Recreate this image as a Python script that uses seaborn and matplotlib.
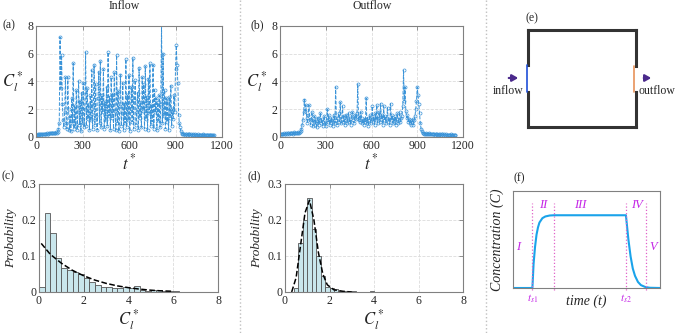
import numpy as np
import matplotlib
matplotlib.use("Agg")
import matplotlib.pyplot as plt
import seaborn as sns

# time axis (step 5) and concentration (a) and (b)
t_star = list(range(0, 1155, 5))

c_inflow = [
    0.15, 0.18, 0.2, 0.17, 0.22, 0.2, 0.18, 0.23, 0.21, 0.2,
    0.22, 0.25, 0.2, 0.24, 0.27, 0.23, 0.25, 0.28, 0.3, 0.26,
    0.28, 0.3, 0.27, 0.32, 0.3, 0.28, 0.33, 0.3, 0.35, 0.6,
    1.0, 7.2, 3.5, 5.9, 2.4, 1.2, 0.7, 1.8, 4.3, 1.0,
    0.6, 4.3, 2.0, 0.5, 1.5, 0.4, 2.8, 1.0, 5.3, 0.6,
    2.2, 0.8, 3.4, 0.5, 1.8, 4.0, 0.9, 2.6, 0.4, 3.2,
    1.0, 3.9, 0.7, 2.0, 6.1, 0.8, 3.5, 1.3, 2.4, 0.5,
    3.0, 1.2, 4.8, 0.6, 2.3, 5.2, 0.9, 3.8, 1.5, 0.5,
    2.8, 4.7, 1.0, 5.5, 0.7, 3.0, 1.8, 4.9, 0.6, 2.5,
    1.2, 3.6, 0.8, 6.1, 1.5, 2.9, 0.5, 4.3, 1.4, 3.1,
    0.6, 4.7, 1.9, 0.5, 5.9, 1.0, 3.3, 0.4, 2.2, 4.5,
    0.8, 1.7, 3.9, 0.5, 2.4, 1.0, 5.6, 0.7, 3.0, 1.2,
    4.5, 0.4, 2.0, 3.6, 1.1, 5.7, 0.6, 2.7, 4.1, 0.9,
    1.8, 3.2, 0.5, 5.0, 1.4, 2.5, 0.7, 4.3, 1.9, 3.8,
    0.6, 5.1, 1.3, 2.9, 0.5, 4.2, 1.7, 5.3, 0.8, 2.3,
    1.1, 5.2, 0.6, 3.4, 1.8, 2.8, 0.5, 2.5, 1.2, 3.0,
    0.7, 2.4, 8.2, 1.0, 6.0, 1.5, 3.4, 0.6, 2.8, 1.1,
    2.6, 0.5, 2.9, 1.4, 3.7, 0.8, 2.0, 1.3, 3.0, 1.8,
    4.9, 6.6, 5.2, 3.9, 1.6, 1.0, 0.7, 0.4, 0.3, 0.25,
    0.22, 0.2, 0.18, 0.25, 0.2, 0.17, 0.22, 0.19, 0.2, 0.16,
    0.2, 0.18, 0.15, 0.2, 0.17, 0.22, 0.16, 0.18, 0.15, 0.19,
    0.17, 0.15, 0.18, 0.14, 0.16, 0.2, 0.15, 0.13, 0.17, 0.15,
    0.14, 0.16, 0.13, 0.15, 0.12, 0.14, 0.13, 0.15, 0.12, 0.1,
    0.12,
]

c_outflow = [
    0.2, 0.22, 0.25, 0.2, 0.24, 0.27, 0.22, 0.25, 0.28, 0.24,
    0.26, 0.3, 0.25, 0.28, 0.32, 0.27, 0.3, 0.25, 0.29, 0.33,
    0.3, 0.27, 0.32, 0.35, 0.3, 0.28, 0.34, 0.4, 0.6, 0.9,
    1.2, 1.8, 2.7, 1.9, 2.3, 1.4, 1.0, 1.6, 2.3, 1.2,
    0.9, 1.3, 1.8, 0.8, 1.1, 1.5, 0.9, 1.3, 0.7, 1.0,
    1.4, 0.9, 1.2, 1.7, 1.0, 1.3, 0.8, 1.1, 1.5, 1.0,
    0.8, 1.2, 2.0, 1.1, 1.6, 0.9, 1.3, 1.0, 1.4, 0.8,
    1.1, 1.6, 1.0, 3.6, 1.2, 0.9, 1.4, 1.7, 1.1, 2.5,
    1.0, 1.3, 2.2, 1.1, 1.5, 0.9, 1.2, 1.6, 1.0, 1.4,
    1.7, 1.1, 1.3, 0.9, 1.5, 1.8, 1.2, 1.0, 1.4, 1.6,
    1.3, 1.7, 3.8, 1.2, 1.5, 1.1, 1.8, 1.4, 1.0, 1.2,
    0.9, 1.3, 1.1, 2.8, 1.0, 1.4, 0.8, 1.2, 1.6, 1.0,
    1.3, 2.2, 1.1, 1.5, 0.9, 1.7, 1.2, 2.3, 1.0, 1.4,
    1.8, 1.1, 2.4, 1.3, 1.6, 0.9, 2.2, 1.2, 1.5, 1.0,
    1.4, 2.1, 1.1, 1.3, 0.9, 2.4, 1.2, 1.6, 1.0, 1.3,
    1.1, 1.5, 0.9, 1.3, 1.7, 1.0, 1.2, 1.8, 1.1, 1.4,
    1.5, 2.2, 4.8, 2.6, 3.6, 1.9, 1.4, 1.6, 1.1, 1.3,
    1.0, 1.2, 0.9, 1.1, 1.3, 0.9, 1.2, 1.5, 2.0, 2.6,
    3.6, 3.0, 2.4, 1.7, 1.0, 0.6, 0.4, 0.3, 0.28, 0.25,
    0.25, 0.22, 0.27, 0.2, 0.24, 0.21, 0.26, 0.2, 0.23, 0.19,
    0.22, 0.2, 0.24, 0.18, 0.21, 0.19, 0.23, 0.17, 0.2, 0.18,
    0.21, 0.17, 0.19, 0.2, 0.16, 0.19, 0.18, 0.15, 0.2, 0.17,
    0.18, 0.15, 0.17, 0.16, 0.19, 0.14, 0.16, 0.15, 0.13, 0.12,
    0.13,
]

# histogram (c): bins of 0.25
hist_in_edges = [i * 0.25 for i in range(26)]
hist_in_prob = [0.015, 0.22, 0.165, 0.095, 0.068, 0.06, 0.055, 0.05, 0.04, 0.028,
                0.02, 0.015, 0.013, 0.012, 0.01, 0.015, 0.012, 0.016, 0.005, 0.004,
                0.005, 0.006, 0.004, 0.003, 0.002]
fit_in_x = [0.1, 0.5, 1.0, 1.5, 2.0, 2.5, 3.0, 3.5, 4.0, 4.5, 5.0, 5.5, 6.0]
fit_in_y = [0.135, 0.105, 0.08, 0.06, 0.045, 0.033, 0.024, 0.017, 0.012, 0.008, 0.005, 0.003, 0.002]

# histogram (d): bins of 0.2
hist_out_edges = [0.4 + i * 0.2 for i in range(19)]
hist_out_prob = [0.012, 0.135, 0.2, 0.262, 0.175, 0.1, 0.045, 0.015, 0.01, 0.008,
                 0.004, 0.003, 0.002, 0.002, 0.001, 0.001, 0.001, 0.002]
fit_out_x = [0.3, 0.5, 0.7, 0.9, 1.1, 1.3, 1.5, 1.7, 1.9, 2.2, 2.6, 3.0]
fit_out_y = [0.0, 0.04, 0.13, 0.22, 0.255, 0.2, 0.11, 0.05, 0.02, 0.006, 0.002, 0.0]

# schematic curve (f)
sch_t = [0, 0.13, 0.132, 0.14, 0.15, 0.16, 0.17, 0.18, 0.20, 0.22, 0.25, 0.28, 0.5,
         0.768, 0.775, 0.785, 0.80, 0.815, 0.83, 0.85, 0.87, 0.90, 0.93, 1.0]
sch_c = [0, 0, 0, 1.0, 1.7, 2.2, 2.5, 2.7, 2.88, 2.95, 2.99, 3.0, 3.0,
         3.0, 2.6, 2.0, 1.3, 0.8, 0.5, 0.25, 0.12, 0.04, 0.01, 0]
phase_lines = [0.132, 0.282, 0.768, 0.905]
phase_names = ["I", "II", "III", "IV", "V"]
phase_x = [0.034, 0.205, 0.46, 0.84, 0.955]
phase_y = [1.7, 3.41, 3.41, 3.41, 1.7]

sns.set_style("white")
plt.rcParams["font.family"] = "serif"
plt.rcParams["font.serif"] = ["Liberation Serif", "DejaVu Serif"]
plt.rcParams["mathtext.fontset"] = "stix"

W, H = 677, 333
fig = plt.figure(figsize=(W / 100, H / 100), dpi=100)


def px_axes(x0, y0, x1, y1):
    return fig.add_axes([x0 / W, 1 - y1 / H, (x1 - x0) / W, (y1 - y0) / H])


def matlab_style(ax):
    for s in ax.spines.values():
        s.set_color("#808080")
        s.set_linewidth(0.8)
    ax.tick_params(direction="in", length=3, width=0.6, color="#808080",
                   labelsize=8.5, labelcolor="#262626", top=True, right=True, pad=2)
    ax.grid(True, linestyle="--", color="#dcdcdc", linewidth=0.6)
    ax.set_axisbelow(True)


# background overlay for separators and the diagram
bg = fig.add_axes([0, 0, 1, 1])
bg.set_xlim(0, W)
bg.set_ylim(H, 0)
bg.axis("off")
for xs in (240, 486):
    bg.plot([xs, xs], [0, H], linestyle=":", color="#c0c0c0", linewidth=1.0)

# (e) diagram
dark = "#333333"
wall = dict(color=dark, lw=2.2, solid_capstyle="projecting")
bg.plot([528, 636], [30, 30], **wall)
bg.plot([528, 636], [127, 127], **wall)
bg.plot([528, 528], [30, 65], **wall)
bg.plot([528, 528], [92, 127], **wall)
bg.plot([636, 636], [30, 66], **wall)
bg.plot([636, 636], [92, 127], **wall)
bg.plot([527, 527], [65, 92], color="#1f4fd8", lw=1.2)
bg.plot([634, 634], [66, 92], color="#e8925a", lw=1.2)
arrow_kw = dict(arrowstyle="-|>,head_length=0.35,head_width=0.2", color="#4b2a8c", lw=1.6)
bg.annotate("", xy=(521, 78), xytext=(506, 78), arrowprops=arrow_kw)
bg.annotate("", xy=(654, 78), xytext=(641, 78), arrowprops=arrow_kw)
bg.text(508, 91, "inflow", ha="center", va="center", fontsize=8.5)
bg.text(657, 91, "outflow", ha="center", va="center", fontsize=8.5)
bg.text(532, 18, "(e)", ha="center", va="center", fontsize=8.5)

# titles and panel letters
bg.text(124, 6, "Inflow", ha="center", va="center", fontsize=8.5)
bg.text(372, 6, "Outflow", ha="center", va="center", fontsize=8.5)
for lbl, x, y in [("(a)", 9, 25), ("(b)", 257, 25), ("(c)", 8, 176),
                  ("(d)", 254, 176), ("(f)", 519, 178)]:
    bg.text(x, y, lbl, ha="center", va="center", fontsize=8.5)

line_color = "#3a93d8"

# (a) and (b) time series
for (x0, x1), series in [((36, 222), c_inflow), ((280, 463), c_outflow)]:
    ax = px_axes(x0, 26, x1, 137)
    sns.lineplot(x=t_star, y=series, ax=ax, color=line_color, linestyle="--",
                 linewidth=0.7, marker="o", markersize=2.2, markerfacecolor="none",
                 markeredgecolor=line_color, markeredgewidth=0.5)
    ax.set_xlim(0, 1200)
    ax.set_ylim(0, 8)
    ax.set_xticks([0, 300, 600, 900, 1200])
    ax.set_yticks([0, 2, 4, 6, 8])
    matlab_style(ax)
    ax.set_xlabel(r"$t^*$", fontsize=12, labelpad=1)
    ax.set_ylabel(r"$C_l^*$", fontsize=12, rotation=0, labelpad=10, va="center")

# (c) and (d) histograms
for (x0, x1), edges, prob, fx, fy in [((39, 218), hist_in_edges, hist_in_prob, fit_in_x, fit_in_y),
                                       ((285, 463), hist_out_edges, hist_out_prob, fit_out_x, fit_out_y)]:
    ax = px_axes(x0, 184, x1, 292)
    centers = [(edges[i] + edges[i + 1]) / 2 for i in range(len(prob))]
    sns.histplot(x=centers, weights=prob, bins=edges, ax=ax, color="#c9e6ec",
                 edgecolor="#555555", linewidth=0.6, alpha=1)
    sns.lineplot(x=fx, y=fy, ax=ax, color="black", linestyle="--", linewidth=1.1)
    ax.set_xlim(0, 8)
    ax.set_ylim(0, 0.3)
    ax.set_xticks([0, 2, 4, 6, 8])
    ax.set_yticks([0, 0.1, 0.2, 0.3])
    ax.set_yticklabels(["0", "0.1", "0.2", "0.3"])
    matlab_style(ax)
    ax.set_xlabel(r"$C_l^*$", fontsize=12, labelpad=0)
    ax.set_ylabel("Probability", fontsize=9.5, style="italic", labelpad=3)

# (f) schematic
ax = px_axes(513, 191, 660, 288)
sns.lineplot(x=sch_t, y=sch_c, ax=ax, color="#1aa3ea", linewidth=1.5)
ax.set_xlim(0, 1)
ax.set_ylim(0, 4)
ax.set_xticks([])
ax.set_yticks([1, 2, 3])
ax.set_yticklabels([])
for s in ax.spines.values():
    s.set_color("#808080")
    s.set_linewidth(0.8)
ax.tick_params(axis="y", direction="in", length=3, width=0.6, color="#808080")
magenta = "#c425e6"
for xv in phase_lines:
    ax.plot([xv, xv], [-0.1, 3.5], linestyle=":", color="#e060c8", linewidth=0.9, clip_on=False)
for name, xv, yv in zip(phase_names, phase_x, phase_y):
    ax.text(xv, yv, name, color=magenta, style="italic", fontsize=9, ha="center", va="center")
ax.text(phase_lines[0], -0.45, r"$t_{s1}$", color=magenta, fontsize=8, ha="center", va="center")
ax.text(phase_lines[2], -0.45, r"$t_{s2}$", color=magenta, fontsize=8, ha="center", va="center")
ax.set_xlabel("time (t)", fontsize=10, style="italic", labelpad=5)
ax.set_ylabel("Concentration (C)", fontsize=10, style="italic", labelpad=3)

fig.savefig("out.png", dpi=100)
